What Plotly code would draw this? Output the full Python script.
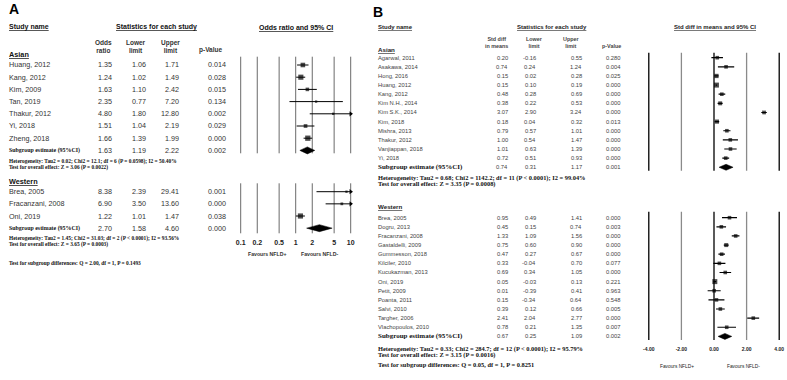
import math
import plotly.graph_objects as go

W, H = 787, 380

# ---------------- Panel A data (odds ratios) ----------------
a_asian_names = ["Huang, 2012", "Kang, 2012", "Kim, 2009", "Tan, 2019", "Thakur, 2012", "Yi, 2018", "Zheng, 2018"]
a_asian_or = [1.35, 1.24, 1.63, 2.35, 4.80, 1.51, 1.66]
a_asian_lo = [1.06, 1.02, 1.10, 0.77, 1.80, 1.04, 1.39]
a_asian_hi = [1.71, 1.49, 2.42, 7.20, 12.80, 2.19, 1.99]
a_asian_p = ["0.014", "0.028", "0.015", "0.134", "0.002", "0.029", "0.000"]
a_asian_sub = [1.63, 1.19, 2.22]
a_asian_sub_p = "0.002"
a_asian_het = "Heterogeneity: Tau2 = 0.02; Chi2 = 12.1; df = 6 (P = 0.0598); I2 = 50.40%"
a_asian_test = "Test for overall effect: Z = 3.06 (P = 0.0022)"

a_west_names = ["Brea, 2005", "Fracanzani, 2008", "Oni, 2019"]
a_west_or = [8.38, 6.90, 1.22]
a_west_lo = [2.39, 3.50, 1.01]
a_west_hi = [29.41, 13.60, 1.47]
a_west_p = ["0.001", "0.000", "0.038"]
a_west_sub = [2.70, 1.58, 4.60]
a_west_sub_p = "0.000"
a_west_het = "Heterogeneity: Tau2 = 1.45; Chi2 = 31.03; df = 2 (P < 0.0001); I2 = 93.56%"
a_west_test = "Test for overall effect: Z = 3.65 (P = 0.0003)"
a_diff = "Test for subgroup differences: Q = 2.00, df = 1, P = 0.1493"
a_ticks = [0.1, 0.2, 0.5, 1, 2, 5, 10]
a_ticktext = ["0.1", "0.2", "0.5", "1", "2", "5", "10"]

# ---------------- Panel B data (std diff in means) ----------------
b_asian_names = ["Agarwal, 2011", "Asakawa, 2014", "Hong, 2016", "Huang, 2012", "Kang, 2012", "Kim N.H., 2014",
                 "Kim S.K., 2014", "Kim, 2018", "Mishra, 2013", "Thakur, 2012", "Vanjiappan, 2018", "Yi, 2018"]
b_asian_d = [0.20, 0.74, 0.15, 0.15, 0.48, 0.38, 3.07, 0.18, 0.79, 1.00, 1.01, 0.72]
b_asian_lo = [-0.16, 0.24, 0.02, 0.10, 0.28, 0.22, 2.90, 0.04, 0.57, 0.54, 0.63, 0.51]
b_asian_hi = [0.55, 1.24, 0.28, 0.19, 0.69, 0.53, 3.24, 0.32, 1.01, 1.47, 1.39, 0.93]
b_asian_p = ["0.280", "0.004", "0.025", "0.000", "0.000", "0.000", "0.000", "0.013", "0.000", "0.000", "0.000", "0.000"]
b_asian_sub = [0.74, 0.31, 1.17]
b_asian_sub_p = "0.001"
b_asian_het = "Heterogeneity: Tau2 = 0.68; Chi2 = 1142.2; df = 11 (P < 0.0001); I2 = 99.04%"
b_asian_test = "Test for overall effect: Z = 3.35 (P = 0.0008)"

b_west_names = ["Brea, 2005", "Dogru, 2013", "Fracanzani, 2008", "Gastaldelli, 2009", "Gummesson, 2018",
                "Kilciler, 2010", "Kucukazman, 2013", "Oni, 2019", "Petit, 2009", "Poanta, 2011", "Salvi, 2010",
                "Targher, 2006", "Vlachopoulos, 2010"]
b_west_d = [0.95, 0.45, 1.33, 0.75, 0.47, 0.33, 0.69, 0.05, 0.01, 0.15, 0.39, 2.41, 0.78]
b_west_lo = [0.49, 0.15, 1.09, 0.60, 0.27, -0.04, 0.34, -0.03, -0.39, -0.34, 0.12, 2.04, 0.21]
b_west_hi = [1.41, 0.74, 1.56, 0.90, 0.67, 0.70, 1.05, 0.13, 0.41, 0.64, 0.66, 2.77, 1.35]
b_west_p = ["0.000", "0.003", "0.000", "0.000", "0.000", "0.077", "0.000", "0.221", "0.963", "0.548", "0.005",
            "0.000", "0.007"]
b_west_sub = [0.67, 0.25, 1.09]
b_west_sub_p = "0.002"
b_west_het = "Heterogeneity: Tau2 = 0.33; Chi2 = 284.7; df = 12 (P < 0.0001); I2 = 95.79%"
b_west_test = "Test for overall effect: Z = 3.15 (P = 0.0016)"
b_diff = "Test for subgroup differences: Q = 0.05, df = 1, P = 0.8251"
b_ticks = [-4, -2, 0, 2, 4]
b_ticktext = ["-4.00", "-2.00", "0.00", "2.00", "4.00"]

# ---------------- helpers ----------------
SANS = "Liberation Sans, Arial, sans-serif"
SERIF = "Liberation Serif, Times New Roman, serif"
annots = []


def txt(s, x, y, size, anchor="left", bold=False, serif=False, color="#222", under=False, align="left"):
    font = dict(family=SERIF if serif else SANS, size=size, color=color)
    if bold:
        font["weight"] = "bold"
    if under:
        font["lineposition"] = "under"
    annots.append(dict(text=s, x=x / W, y=1 - y / H, xref="paper", yref="paper", xanchor=anchor,
                       yanchor="middle", showarrow=False, font=font, borderpad=0, align=align))


fig = go.Figure()

# ================= PANEL A =================
A_ROW0, A_STEP = 65.0, 12.2
A_WROW0, A_WSTEP = 191.7, 12.15
A_AXIS_Y = 237.0      # pixel row of panel A x-axis line (bottom of its plot area)
a_cols = dict(or_r=113, lo_r=147, hi_r=180, p_r=227)
AFS = 7.2
txt("A", 8, 9, 14, bold=True, color="#000")
txt("Study name", 8, 27, 7, bold=True, under=True, color="#111")
txt("Statistics for each study", 156, 27, 7, anchor="center", bold=True, under=True, color="#111")
txt("Odds ratio and 95% CI", 296, 27, 7, anchor="center", bold=True, under=True, color="#111")
txt("Odds<br>ratio", 103, 46, 6.5, anchor="center", bold=True, color="#333", align="center")
txt("Lower<br>limit", 136, 46, 6.5, anchor="center", bold=True, color="#333", align="center")
txt("Upper<br>limit", 170, 46, 6.5, anchor="center", bold=True, color="#333", align="center")
txt("p-Value", 211, 50, 6.5, anchor="center", bold=True, color="#333")
txt("Asian", 8, 54.5, 7.3, bold=True, under=True, color="#111")
txt("Western", 8, 181, 7.3, bold=True, under=True, color="#111")


def a_block(names, est, lo, hi, pv, sub, subp, het, test, y0, step, hety):
    ys = []
    for i, n in enumerate(names):
        y = y0 + i * step
        ys.append(y)
        txt(n, 8, y, AFS, color="#333")
        txt(f"{est[i]:.2f}", a_cols["or_r"], y, AFS, anchor="right", color="#333")
        txt(f"{lo[i]:.2f}", a_cols["lo_r"], y, AFS, anchor="right", color="#333")
        txt(f"{hi[i]:.2f}", a_cols["hi_r"], y, AFS, anchor="right", color="#333")
        txt(pv[i], a_cols["p_r"], y, AFS, anchor="right", color="#333")
    ys_sub = y0 + len(names) * step
    txt("Subgroup estimate (95%CI)", 8, ys_sub, 5.9, bold=True, serif=True, color="#111")
    txt(f"{sub[0]:.2f}", a_cols["or_r"], ys_sub, AFS, anchor="right", color="#333")
    txt(f"{sub[1]:.2f}", a_cols["lo_r"], ys_sub, AFS, anchor="right", color="#333")
    txt(f"{sub[2]:.2f}", a_cols["hi_r"], ys_sub, AFS, anchor="right", color="#333")
    txt(subp, a_cols["p_r"], ys_sub, AFS, anchor="right", color="#333")
    txt(het, 8, hety, 5.4, bold=True, serif=True, color="#111")
    txt(test, 8, hety + 6, 5.4, bold=True, serif=True, color="#111")
    return ys, ys_sub


a_ys1, a_sub1 = a_block(a_asian_names, a_asian_or, a_asian_lo, a_asian_hi, a_asian_p, a_asian_sub,
                        a_asian_sub_p, a_asian_het, a_asian_test, A_ROW0, A_STEP, 161.7)
a_ys2, a_sub2 = a_block(a_west_names, a_west_or, a_west_lo, a_west_hi, a_west_p, a_west_sub,
                        a_west_sub_p, a_west_het, a_west_test, A_WROW0, A_WSTEP, 238.3)
txt(a_diff, 8, 263.3, 5.4, bold=True, serif=True, color="#111")
txt("Favours NFLD+", 267, 254, 5.2, anchor="center", bold=True, color="#333")
txt("Favours NFLD-", 319, 254, 5.2, anchor="center", bold=True, color="#333")

# grid lines A (broken between subgroups)
gx, gy = [], []
for v in a_ticks:
    gx += [v, v, None, v, v, None]
    gy += [56.7, 153.3, None, 183.3, 233.3, None]
fig.add_trace(go.Scatter(x=gx, y=gy, mode="lines", line=dict(color="#6a6a6a", width=1),
                         xaxis="x", yaxis="y", hoverinfo="skip"))

A_MAX = 10.0


def a_forest(est, lo, hi, ys, sub, ysub):
    lx, ly, ax, ay, sizes = [], [], [], [], []
    for e, l, h, y in zip(est, lo, hi, ys):
        lx += [l, min(h, A_MAX), None]
        ly += [y, y, None]
        if h > A_MAX:
            ax.append(A_MAX)
            ay.append(y)
        se = (math.log(h) - math.log(l)) / (2 * 1.96)
        sizes.append(max(2.3, min(7.0, 1.6 / math.sqrt(se))))
    fig.add_trace(go.Scatter(x=lx, y=ly, mode="lines", line=dict(color="#000", width=1),
                             xaxis="x", yaxis="y", hoverinfo="skip"))
    fig.add_trace(go.Scatter(x=est, y=ys, mode="markers",
                             marker=dict(symbol="square", size=sizes, color="#000", line=dict(width=0)),
                             xaxis="x", yaxis="y", cliponaxis=False))
    if ax:
        fig.add_trace(go.Scatter(x=ax, y=ay, mode="markers",
                                 marker=dict(symbol="triangle-right", size=4.5, color="#000"),
                                 xaxis="x", yaxis="y", cliponaxis=False))
    e, l, h = sub
    fig.add_trace(go.Scatter(x=[l, e, h, e, l], y=[ysub, ysub - 3.5, ysub, ysub + 3.5, ysub],
                             mode="lines", fill="toself", fillcolor="#000", line=dict(color="#000", width=0.5),
                             xaxis="x", yaxis="y"))


a_forest(a_asian_or, a_asian_lo, a_asian_hi, a_ys1, a_asian_sub, a_sub1)
a_forest(a_west_or, a_west_lo, a_west_hi, a_ys2, a_west_sub, a_sub2)

# ================= PANEL B =================
B_ROW0, B_STEP = 57.7, 9.13
B_WROW0 = 217.7
B_AXIS_Y = 344.5
b_cols = dict(d_r=509, lo_r=537, hi_r=583, p_r=622)
BFS = 5.8
BC = "#444"
BX = 377
txt("B", 372, 12, 14, bold=True, color="#000")
txt("Study name", BX, 27.3, 6, bold=True, under=True, color="#222")
txt("Statistics for each study", 552, 27.3, 6, anchor="center", bold=True, under=True, color="#222")
txt("Std diff in means and 95% CI", 715, 27.3, 6, anchor="center", bold=True, under=True, color="#222")
txt("Std diff<br>in means", 496, 42, 5.4, anchor="center", bold=True, color=BC, align="center")
txt("Lower<br>limit", 534, 42, 5.4, anchor="center", bold=True, color=BC, align="center")
txt("Upper<br>limit", 571, 42, 5.4, anchor="center", bold=True, color=BC, align="center")
txt("p-Value", 611, 46, 5.4, anchor="center", bold=True, color=BC)
txt("Asian", BX, 49.3, 6.2, bold=True, under=True, color="#222")
txt("Western", BX, 206, 6.2, bold=True, under=True, color="#222")


def b_block(names, est, lo, hi, pv, sub, subp, het, test, y0, step, hety):
    ys = []
    for i, n in enumerate(names):
        y = y0 + i * step
        ys.append(y)
        txt(n, BX, y, BFS, color=BC)
        txt(f"{est[i]:.2f}", b_cols["d_r"], y, BFS, anchor="right", color=BC)
        txt(f"{lo[i]:.2f}", b_cols["lo_r"], y, BFS, anchor="right", color=BC)
        txt(f"{hi[i]:.2f}", b_cols["hi_r"], y, BFS, anchor="right", color=BC)
        txt(pv[i], b_cols["p_r"], y, BFS, anchor="right", color=BC)
    ys_sub = y0 + len(names) * step
    txt("Subgroup estimate (95%CI)", BX, ys_sub, 7, bold=True, serif=True, color="#111")
    txt(f"{sub[0]:.2f}", b_cols["d_r"], ys_sub, BFS, anchor="right", color=BC)
    txt(f"{sub[1]:.2f}", b_cols["lo_r"], ys_sub, BFS, anchor="right", color=BC)
    txt(f"{sub[2]:.2f}", b_cols["hi_r"], ys_sub, BFS, anchor="right", color=BC)
    txt(subp, b_cols["p_r"], ys_sub, BFS, anchor="right", color=BC)
    txt(het, BX, hety, 6.4, bold=True, serif=True, color="#111")
    txt(test, BX, hety + 6, 6.4, bold=True, serif=True, color="#111")
    return ys, ys_sub


b_ys1, b_sub1 = b_block(b_asian_names, b_asian_d, b_asian_lo, b_asian_hi, b_asian_p, b_asian_sub,
                        b_asian_sub_p, b_asian_het, b_asian_test, B_ROW0, B_STEP, 177.8)
b_ys2, b_sub2 = b_block(b_west_names, b_west_d, b_west_lo, b_west_hi, b_west_p, b_west_sub,
                        b_west_sub_p, b_west_het, b_west_test, B_WROW0, B_STEP, 349.3)
txt(b_diff, BX, 364.5, 6.4, bold=True, serif=True, color="#111")
txt("Favours NFLD+", 677, 366, 4.8, anchor="center", color="#222")
txt("Favours NFLD-", 743, 366, 4.8, anchor="center", color="#222")

for colr, vals in (("#000", b_ticks[0::2]), ("#8a8a8a", b_ticks[1::2])):
    gx, gy = [], []
    for v in vals:
        gx += [v, v, None, v, v, None]
        gy += [52.7, 170.7, None, 211.7, 340.0, None]
    fig.add_trace(go.Scatter(x=gx, y=gy, mode="lines", line=dict(color=colr, width=1.3),
                             xaxis="x2", yaxis="y2", hoverinfo="skip"))


def b_forest(est, lo, hi, ys, sub, ysub):
    lx, ly, sizes = [], [], []
    for e, l, h, y in zip(est, lo, hi, ys):
        lx += [l, h, None]
        ly += [y, y, None]
        se = (h - l) / (2 * 1.96)
        sizes.append(max(3.6, min(5.0, 1.1 / math.sqrt(se))))
    fig.add_trace(go.Scatter(x=lx, y=ly, mode="lines", line=dict(color="#000", width=1.2),
                             xaxis="x2", yaxis="y2", hoverinfo="skip"))
    fig.add_trace(go.Scatter(x=est, y=ys, mode="markers",
                             marker=dict(symbol="square", size=sizes, color="#000", line=dict(width=0)),
                             xaxis="x2", yaxis="y2", cliponaxis=False))
    e, l, h = sub
    fig.add_trace(go.Scatter(x=[l, e, h, e, l], y=[ysub, ysub - 3, ysub, ysub + 3, ysub],
                             mode="lines", fill="toself", fillcolor="#000", line=dict(color="#000", width=0.5),
                             xaxis="x2", yaxis="y2"))


b_forest(b_asian_d, b_asian_lo, b_asian_hi, b_ys1, b_asian_sub, b_sub1)
b_forest(b_west_d, b_west_lo, b_west_hi, b_ys2, b_west_sub, b_sub2)

# ================= axes / layout =================
A_L, A_R = 235.2, 356.2
B_L, B_R = 643.9, 784.1
fig.update_layout(
    width=W, height=H, margin=dict(l=0, r=0, t=0, b=0),
    paper_bgcolor="white", plot_bgcolor="rgba(0,0,0,0)", showlegend=False, hovermode=False,
    xaxis=dict(type="log", range=[-1.1, 1.1], domain=[A_L / W, A_R / W], anchor="y",
               showgrid=False, zeroline=False, showline=False, ticks="",
               tickvals=a_ticks, ticktext=a_ticktext,
               tickfont=dict(family=SANS, size=7, color="#222", weight="bold")),
    yaxis=dict(range=[A_AXIS_Y, 0], domain=[1 - A_AXIS_Y / H, 1], visible=False, anchor="x"),
    xaxis2=dict(type="linear", range=[-4.3, 4.3], domain=[B_L / W, B_R / W], anchor="y2",
                showgrid=False, zeroline=False, showline=False, ticks="",
                tickvals=b_ticks, ticktext=b_ticktext,
                tickfont=dict(family=SANS, size=5, color="#222", weight="bold")),
    yaxis2=dict(range=[B_AXIS_Y, 0], domain=[1 - B_AXIS_Y / H, 1], visible=False, anchor="x2"),
    annotations=annots,
)

fig.write_html("out.html", config={"displayModeBar": False},
               post_script="document.body.style.margin='0';document.body.style.overflow='hidden';")
